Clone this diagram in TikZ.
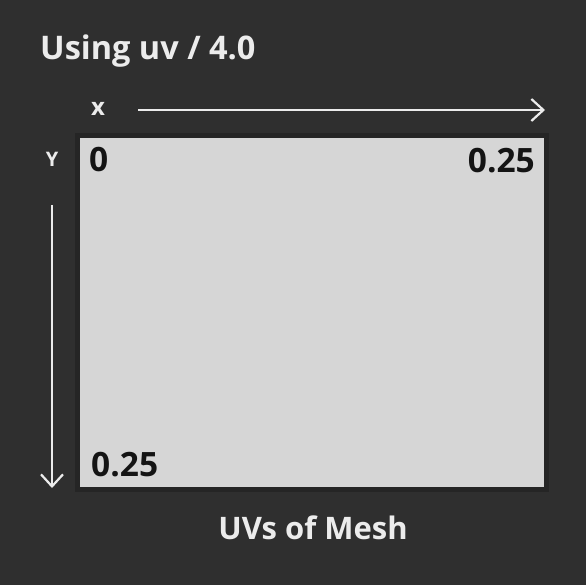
\documentclass[tikz,border=0pt]{standalone}
\usepackage{fontspec}
\setmainfont{Open Sans}
\usetikzlibrary{arrows.meta}
\definecolor{bgc}{HTML}{2F2F2F}
\definecolor{bordc}{HTML}{252525}
\definecolor{fillc}{HTML}{D6D6D6}
\definecolor{lightc}{HTML}{ECECEC}
\definecolor{darkc}{HTML}{141414}
\begin{document}
\begin{tikzpicture}[x=1pt,y=-1pt,
  title/.style={text=lightc,font=\fontsize{32.5}{32.5}\selectfont\bfseries,inner sep=0pt},
  caption/.style={text=lightc,font=\fontsize{31}{31}\selectfont\bfseries,inner sep=0pt},
  axislabel/.style={text=lightc,font=\fontsize{20}{20}\selectfont\bfseries,inner sep=0pt},
  num/.style={text=darkc,font=\fontsize{33.5}{33.5}\selectfont\bfseries,inner sep=0pt},
  axis/.style={draw=lightc,line width=2.2pt,-{Straight Barb[length=12pt,width=22pt,line width=2.2pt]}}]
\fill[bgc] (0,0) rectangle (586,585);
\useasboundingbox (0,0) rectangle (586,585);
\draw[fill=fillc,draw=bordc,line width=5pt] (77.5,135.5) rectangle (546.5,489.5);
\node[title,anchor=base west] (t) at (40,60) {Using uv / 4.0};
\node[caption,anchor=base] (b) at (313,539) {UVs of Mesh};
\node[axislabel,font=\fontsize{24}{24}\selectfont\bfseries,anchor=base] (xl) at (98,116) {x};
\node[axislabel,anchor=base] (yl) at (52,167) {Y};
\node[num,anchor=base west] (n0) at (89,172) {0};
\node[num,anchor=base east] (n1) at (535,173) {0.25};
\node[num,anchor=base west] (n2) at (91,476) {0.25};
\coordinate (xs) at (138,110);
\coordinate (xe) at (545,110);
\coordinate (ys) at (52,205);
\coordinate (ye) at (52,488);
\draw[axis] (xs) -- (xe);
\draw[axis] (ys) -- (ye);
\end{tikzpicture}
\end{document}
